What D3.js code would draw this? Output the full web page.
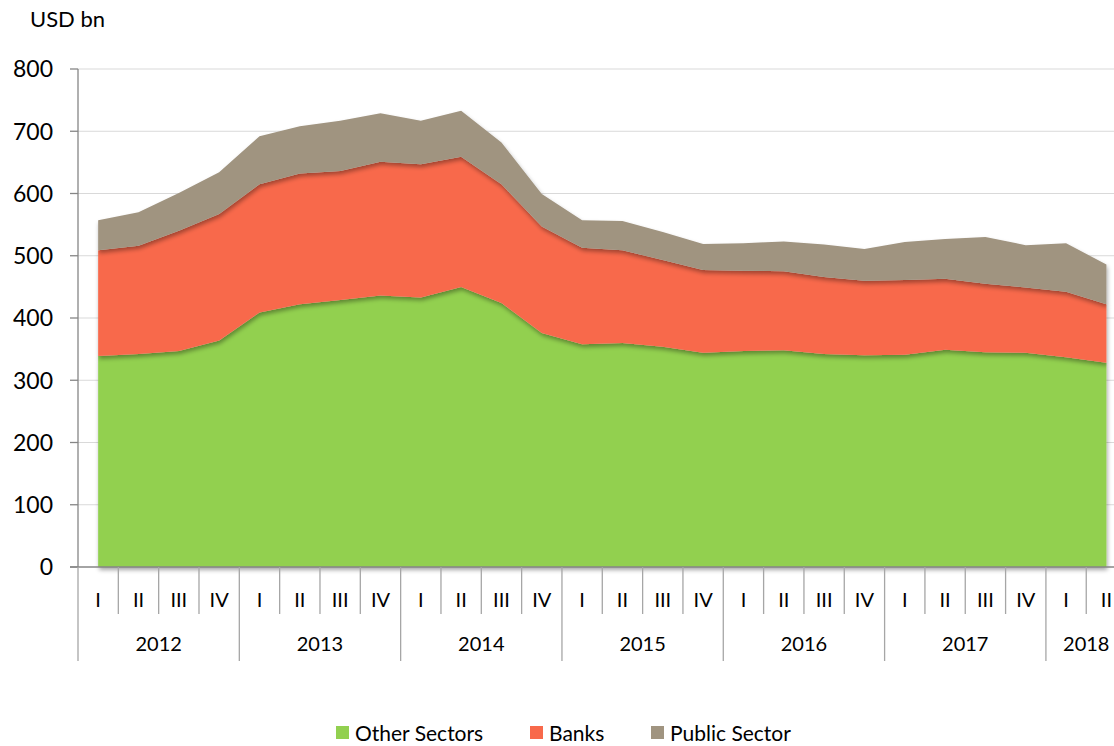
<!DOCTYPE html>
<html>
<head>
<meta charset="utf-8">
<script src="https://cdn.jsdelivr.net/npm/d3@7"></script>
<style>
  body { margin: 0; background: #fff; }
  svg { display: block; font-family: Lato, "Open Sans", sans-serif; }
</style>
</head>
<body>
<svg id="chart" width="1114" height="746"></svg>
<script>
const years = ["2012", "2013", "2014", "2015", "2016", "2017", "2018"];
const quarters = ["I", "II", "III", "IV"];
// 2012 I ... 2018 II
const periods = [];
years.forEach(function(y) {
  quarters.forEach(function(q) {
    if (!(y === "2018" && (q === "III" || q === "IV"))) periods.push(y + " " + q);
  });
});

const otherSectors = [339, 342, 347, 364, 409, 422, 429, 436, 433, 450, 424, 376, 358, 360, 354, 344, 347, 348, 342, 340, 341, 349, 345, 344, 337, 328];
const banks        = [170, 174, 193, 203, 206, 210, 207, 215, 214, 209, 191, 171, 155, 149, 139, 133, 129, 127, 124, 120, 120, 114, 110, 105, 105, 94];
const publicSector = [48, 54, 61, 67, 77, 76, 81, 78, 70, 74, 67, 52, 44, 47, 45, 42, 44, 48, 52, 51, 61, 64, 75, 68, 78, 64];

const seriesNames = ["Other Sectors", "Banks", "Public Sector"];
const colors = ["#92D050", "#F8694B", "#A09480"];
const yTicks = [0, 100, 200, 300, 400, 500, 600, 700, 800];

const rows = periods.map(function(p, i) {
  return {period: p, "Other Sectors": otherSectors[i], "Banks": banks[i], "Public Sector": publicSector[i]};
});

const svg = d3.select("#chart");
const plotLeft = 78, plotTop = 69, plotBottom = 567;
const step = 40.33;

const x = d3.scaleBand()
  .domain(periods)
  .range([plotLeft, plotLeft + step * periods.length])
  .padding(0);

const y = d3.scaleLinear()
  .domain([0, 800])
  .range([plotBottom, plotTop]);

// shadow under each layer
const defs = svg.append("defs");
const f = defs.append("filter").attr("id", "shadow")
  .attr("x", "-5%").attr("y", "-5%").attr("width", "110%").attr("height", "120%");
f.append("feDropShadow")
  .attr("dx", 1).attr("dy", 3).attr("stdDeviation", 2)
  .attr("flood-color", "#000").attr("flood-opacity", 0.35);

// gridlines
svg.append("g")
  .selectAll("line")
  .data(yTicks.slice(1))
  .enter()
  .append("line")
    .attr("x1", plotLeft).attr("x2", 1114)
    .attr("y1", d => y(d)).attr("y2", d => y(d))
    .attr("stroke", "#D9D9D9").attr("stroke-width", 1);

// stacked areas
const stack = d3.stack().keys(seriesNames);
const layers = stack(rows);

const area = d3.area()
  .x(d => x(d.data.period) + x.bandwidth() / 2)
  .y0(d => y(d[0]))
  .y1(d => y(d[1]));

svg.append("g")
  .selectAll("path")
  .data(layers)
  .enter()
  .append("path")
    .attr("d", area)
    .attr("fill", (d, i) => colors[i])
    .attr("filter", "url(#shadow)");

// y axis
const axisColor = "#868686";
svg.append("line")
  .attr("x1", plotLeft).attr("x2", plotLeft)
  .attr("y1", plotTop).attr("y2", plotBottom)
  .attr("stroke", axisColor).attr("stroke-width", 1.3);

svg.append("g")
  .selectAll("line")
  .data(yTicks)
  .enter()
  .append("line")
    .attr("x1", plotLeft - 8).attr("x2", plotLeft)
    .attr("y1", d => y(d)).attr("y2", d => y(d))
    .attr("stroke", axisColor).attr("stroke-width", 1.3);

svg.append("g")
  .selectAll("text")
  .data(yTicks)
  .enter()
  .append("text")
    .attr("x", 53)
    .attr("y", d => y(d))
    .attr("dy", "0.36em")
    .attr("text-anchor", "end")
    .attr("font-size", 23)
    .attr("fill", "#000")
    .text(d => d);

svg.append("text")
  .attr("x", 30).attr("y", 27)
  .attr("font-size", 22)
  .text("USD bn");

// x axis
svg.append("line")
  .attr("x1", plotLeft - 8).attr("x2", 1114)
  .attr("y1", plotBottom).attr("y2", plotBottom)
  .attr("stroke", axisColor).attr("stroke-width", 1.3);

// quarter separators
svg.append("g")
  .selectAll("line")
  .data(periods)
  .enter()
  .append("line")
    .attr("x1", d => x(d)).attr("x2", d => x(d))
    .attr("y1", plotBottom)
    .attr("y2", d => d.endsWith(" I") ? 661 : 614)
    .attr("stroke", "#A6A6A6").attr("stroke-width", 1.3);

svg.append("g")
  .selectAll("text")
  .data(periods)
  .enter()
  .append("text")
    .attr("x", d => x(d) + x.bandwidth() / 2)
    .attr("y", 600)
    .attr("dy", "0.36em")
    .attr("text-anchor", "middle")
    .attr("font-size", 20)
    .text(d => d.split(" ")[1]);

svg.append("g")
  .selectAll("text")
  .data(years)
  .enter()
  .append("text")
    .attr("x", function(yr) {
      const ps = periods.filter(p => p.startsWith(yr));
      return (x(ps[0]) + x(ps[ps.length - 1]) + x.bandwidth()) / 2;
    })
    .attr("y", 644)
    .attr("dy", "0.36em")
    .attr("text-anchor", "middle")
    .attr("font-size", 20)
    .text(d => d);

// legend
const legendX = [336, 530, 651];
const legend = svg.append("g")
  .selectAll("g")
  .data(seriesNames)
  .enter()
  .append("g")
    .attr("transform", (d, i) => "translate(" + legendX[i] + ",733)");

legend.append("rect")
  .attr("x", 0).attr("y", -7)
  .attr("width", 13).attr("height", 13)
  .attr("fill", (d, i) => colors[i]);

legend.append("text")
  .attr("x", 19)
  .attr("y", 0)
  .attr("dy", "0.36em")
  .attr("font-size", 21)
  .text(d => d);
</script>
</body>
</html>
